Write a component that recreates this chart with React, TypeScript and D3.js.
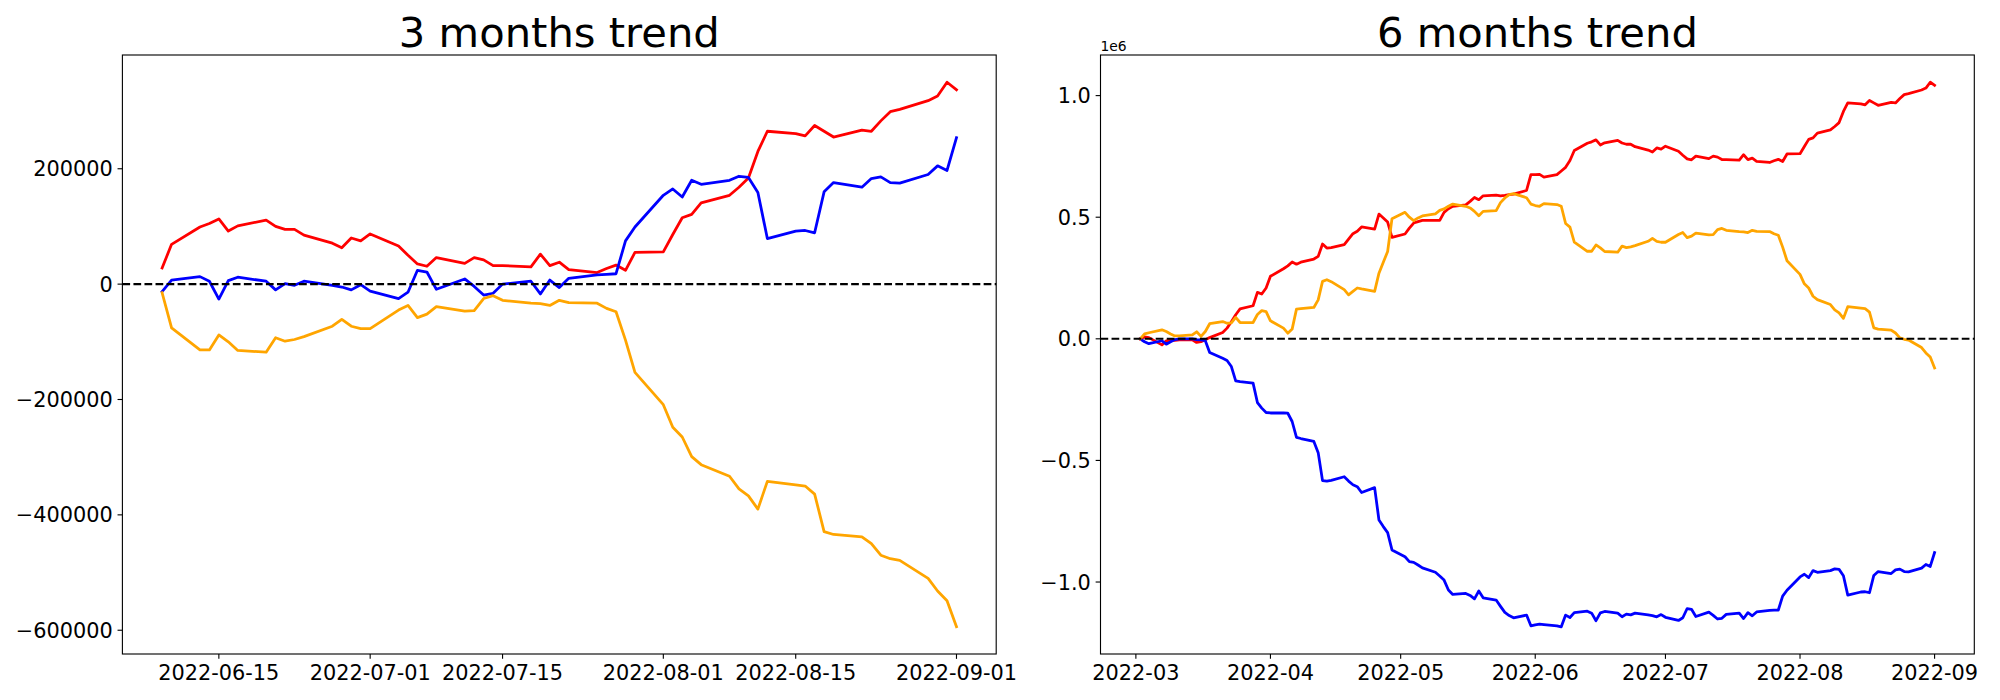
import { scaleLinear, scaleTime, line as d3_line, extent, min, max, timeParse, timeFormat } from "d3"

const parseDay = timeParse("%Y-%m-%d")
const PX = 100 / 72 // matplotlib points -> px (dpi 100)
const FONT = "DejaVu Sans"

// ---------- 3 months trend ----------
const threeDates = [
  "2022-06-09", "2022-06-10", "2022-06-13", "2022-06-14", "2022-06-15", "2022-06-16", "2022-06-17",
  "2022-06-20", "2022-06-21", "2022-06-22", "2022-06-23", "2022-06-24", "2022-06-27", "2022-06-28",
  "2022-06-29", "2022-06-30",
  "2022-07-01", "2022-07-04", "2022-07-05", "2022-07-06", "2022-07-07", "2022-07-08", "2022-07-11",
  "2022-07-12", "2022-07-13", "2022-07-14", "2022-07-15", "2022-07-18", "2022-07-19", "2022-07-20",
  "2022-07-21", "2022-07-22", "2022-07-25", "2022-07-26", "2022-07-27", "2022-07-28", "2022-07-29",
  "2022-08-01", "2022-08-02", "2022-08-03", "2022-08-04", "2022-08-05", "2022-08-08", "2022-08-09",
  "2022-08-10", "2022-08-11", "2022-08-12", "2022-08-15", "2022-08-16", "2022-08-17", "2022-08-18",
  "2022-08-19", "2022-08-22", "2022-08-23", "2022-08-24", "2022-08-25", "2022-08-26", "2022-08-29",
  "2022-08-30", "2022-08-31",
  "2022-09-01",
]
const threeRed = [
  28000, 69000, 99000, 105000, 113000, 92000, 101000, 111000, 100000, 95000, 95000, 85000, 71000, 63000, 80000, 75000,
  87000, 66000, 50000, 35000, 31000, 46000, 36000, 46000, 42000, 32000, 32000, 30000, 52000, 32000, 38000, 25000,
  20000, 27000, 33000, 24000, 55000,
  56000, 86000, 115000, 121000, 141000, 154000, 168000, 184000, 230000, 265000, 261000, 257000, 275000, 265000,
  255000, 267000, 265000, 283000, 299000, 303000, 318000, 326000, 350000,
  337000,
]
const threeBlue = [
  -13000, 7000, 13000, 5000, -26000, 6000, 12000, 5000, -10000, 1000, -2000, 5000, -2000, -5000, -10000, -1000,
  -12000, -25000, -14000, 24000, 21000, -9000, 9000, -4000, -19000, -16000, 0, 5000, -17000, 7000, -6000, 10000,
  16000, 17000, 18000, 75000, 99000,
  154000, 165000, 151000, 180000, 173000, 180000, 187000, 185000, 159000, 79000, 92000, 93000, 89000, 160000,
  176000, 168000, 183000, 186000, 176000, 175000, 190000, 205000, 197000,
  254000,
]
const threeOrange = [
  -15000, -76000, -114000, -114000, -88000, -100000, -115000, -118000, -93000, -99000, -96000, -91000, -73000,
  -61000, -73000, -77000,
  -77000, -45000, -37000, -58000, -52000, -39000, -47000, -46000, -25000, -20000, -28000, -33000, -34000, -37000,
  -28000, -32000, -33000, -42000, -48000, -97000, -153000,
  -209000, -248000, -265000, -299000, -313000, -333000, -355000, -367000, -390000, -342000, -348000, -350000,
  -364000, -429000, -434000, -438000, -450000, -470000, -476000, -479000, -510000, -532000, -549000,
  -594000,
]
const threeXTicks = ["2022-06-15", "2022-07-01", "2022-07-15", "2022-08-01", "2022-08-15", "2022-09-01"]
const threeYTicks = [-600000, -400000, -200000, 0, 200000]

// ---------- 6 months trend ----------
const sixDates = [
  "2022-03-02", "2022-03-03", "2022-03-04", "2022-03-07", "2022-03-08", "2022-03-09", "2022-03-10", "2022-03-11",
  "2022-03-14", "2022-03-15", "2022-03-16", "2022-03-17", "2022-03-18", "2022-03-21", "2022-03-22", "2022-03-23",
  "2022-03-24", "2022-03-25", "2022-03-28", "2022-03-29", "2022-03-30", "2022-03-31",
  "2022-04-01", "2022-04-04", "2022-04-05", "2022-04-06", "2022-04-07", "2022-04-08", "2022-04-11", "2022-04-12",
  "2022-04-13", "2022-04-14", "2022-04-15", "2022-04-18", "2022-04-19", "2022-04-20", "2022-04-21", "2022-04-22",
  "2022-04-25", "2022-04-26", "2022-04-27", "2022-04-28", "2022-04-29",
  "2022-05-02", "2022-05-03", "2022-05-04", "2022-05-05", "2022-05-06", "2022-05-09", "2022-05-10", "2022-05-11",
  "2022-05-12", "2022-05-13", "2022-05-16", "2022-05-17", "2022-05-18", "2022-05-19", "2022-05-20", "2022-05-23",
  "2022-05-24", "2022-05-25", "2022-05-26", "2022-05-27", "2022-05-30", "2022-05-31",
  "2022-06-01", "2022-06-02", "2022-06-03", "2022-06-06", "2022-06-07", "2022-06-08",
  ...threeDates,
]
const sixRed = [
  0, 8000, 5000, -25000, -8000, -5000, -6000, -4000, -4000, -15000, -12000, -4000, 5000, 26000, 44000, 70000,
  99000, 123000, 136000, 191000, 184000, 209000,
  257000, 288000, 300000, 316000, 307000, 315000, 328000, 339000, 390000, 373000, 375000, 387000, 410000, 432000,
  442000, 460000, 451000, 513000, 497000, 480000, 417000,
  431000, 455000, 476000, 482000, 487000, 487000, 487000, 520000, 535000, 545000, 551000, 565000, 581000, 572000,
  588000, 591000, 588000, 590000, 593000, 595000, 610000, 675000,
  675000, 676000, 665000, 675000, 690000, 705000,
  733000, 774000, 804000, 810000, 818000, 797000, 806000, 816000, 805000, 800000, 800000, 790000, 776000, 768000,
  785000, 780000,
  792000, 771000, 755000, 740000, 736000, 751000, 741000, 751000, 747000, 737000, 737000, 735000, 757000, 737000,
  743000, 730000, 725000, 732000, 738000, 729000, 760000,
  761000, 791000, 820000, 826000, 846000, 859000, 873000, 889000, 935000, 970000, 966000, 962000, 980000, 970000,
  960000, 972000, 970000, 988000, 1004000, 1008000, 1023000, 1031000, 1055000,
  1042000,
]
const sixBlue = [
  0, -12000, -20000, -8000, -22000, -12000, -3000, 0, 0, -3000, -4000, -8000, -56000, -80000, -89000, -114000,
  -173000, -176000, -182000, -262000, -285000, -303000,
  -305000, -305000, -306000, -340000, -405000, -410000, -422000, -468000, -583000, -585000, -582000, -567000,
  -585000, -600000, -608000, -632000, -612000, -745000, -772000, -797000, -868000,
  -896000, -916000, -919000, -930000, -942000, -960000, -975000, -992000, -1033000, -1051000, -1047000, -1055000,
  -1069000, -1037000, -1065000, -1074000, -1100000, -1125000, -1138000, -1147000, -1136000, -1180000,
  -1176000, -1173000, -1175000, -1180000, -1184000, -1136000,
  -1146000, -1126000, -1120000, -1128000, -1159000, -1127000, -1121000, -1128000, -1143000, -1132000, -1135000,
  -1128000, -1135000, -1138000, -1143000, -1134000,
  -1145000, -1158000, -1147000, -1109000, -1112000, -1142000, -1124000, -1137000, -1152000, -1149000, -1133000,
  -1128000, -1150000, -1126000, -1139000, -1123000, -1117000, -1116000, -1115000, -1058000, -1034000,
  -979000, -968000, -982000, -953000, -960000, -953000, -946000, -948000, -974000, -1054000, -1041000, -1040000,
  -1044000, -973000, -957000, -965000, -950000, -947000, -957000, -958000, -943000, -928000, -936000,
  -879000,
]
const sixOrange = [
  0, 20000, 25000, 37000, 30000, 20000, 12000, 12000, 16000, 29000, 10000, 30000, 62000, 71000, 64000, 66000,
  88000, 67000, 67000, 100000, 116000, 112000,
  74000, 44000, 23000, 40000, 122000, 124000, 129000, 160000, 236000, 243000, 235000, 202000, 181000, 195000,
  209000, 205000, 195000, 270000, 315000, 359000, 494000,
  520000, 500000, 486000, 497000, 505000, 514000, 528000, 534000, 545000, 554000, 545000, 538000, 524000, 506000,
  524000, 527000, 560000, 579000, 593000, 597000, 580000, 554000,
  548000, 545000, 556000, 552000, 545000, 474000,
  459000, 398000, 360000, 360000, 386000, 374000, 359000, 356000, 381000, 375000, 378000, 383000, 401000, 413000,
  401000, 397000,
  397000, 429000, 437000, 416000, 422000, 435000, 427000, 428000, 449000, 454000, 446000, 441000, 440000, 437000,
  446000, 442000, 441000, 432000, 426000, 377000, 321000,
  265000, 226000, 209000, 175000, 161000, 141000, 119000, 107000, 84000, 132000, 126000, 124000, 110000, 45000,
  40000, 36000, 24000, 4000, -2000, -5000, -36000, -58000, -75000,
  -120000,
]
const sixXTicks = ["2022-03-01", "2022-04-01", "2022-05-01", "2022-06-01", "2022-07-01", "2022-08-01", "2022-09-01"]
const sixYTicks = [-1000000, -500000, 0, 500000, 1000000]

const minus = (s: string) => s.replace("-", "\u2212")

type Series = { color: string; values: number[] }

interface PanelProps {
  title: string
  dates: string[]
  series: Series[]
  xTicks: string[]
  xFormat: string
  yTicks: number[]
  yLabel: (v: number) => string
  offsetText?: string
  left: number
  width: number
}

function TrendPanel({ title, dates, series, xTicks, xFormat, yTicks, yLabel, offsetText, left, width }: PanelProps) {
  const top = 55
  const bottom = 654
  const days = dates.map((d) => parseDay(d) as Date)
  const [d0, d1] = extent(days) as [Date, Date]
  const dPad = (+d1 - +d0) * 0.05
  const x = scaleTime()
    .domain([new Date(+d0 - dPad), new Date(+d1 + dPad)])
    .range([left, left + width])

  const all = series.flatMap((s) => s.values)
  const lo = min(all) ?? 0
  const hi = max(all) ?? 0
  const vPad = (hi - lo) * 0.05
  const y = scaleLinear().domain([lo - vPad, hi + vPad]).range([bottom, top])

  const line = d3_line<number>()
    .x((_, i) => x(days[i]))
    .y((v) => y(v))

  const fmt = timeFormat(xFormat)
  const tickLen = 3.5 * PX
  const pad = 3.5 * PX
  const tickFont = 15 * PX

  return (
    <g fontFamily={FONT}>
      {/* title */}
      <text x={left + width / 2} y={top - 6 * PX} textAnchor="middle" fontSize={30 * PX}>
        {title}
      </text>
      {offsetText && (
        <text x={left} y={51} fontSize={10 * PX}>
          {offsetText}
        </text>
      )}

      {/* lines */}
      {series.map((s, i) => (
        <path
          key={i}
          d={line(s.values) ?? ""}
          fill="none"
          stroke={s.color}
          strokeWidth={2 * PX}
          strokeLinejoin="round"
          strokeLinecap="square"
        />
      ))}

      {/* zero line */}
      <line
        x1={left}
        x2={left + width}
        y1={y(0)}
        y2={y(0)}
        stroke="black"
        strokeWidth={1.5 * PX}
        strokeDasharray={`${3.7 * 1.5 * PX},${1.6 * 1.5 * PX}`}
      />

      {/* frame */}
      <rect x={left} y={top} width={width} height={bottom - top} fill="none" stroke="black" strokeWidth={0.8 * PX} />

      {/* x axis */}
      {xTicks.map((t) => {
        const d = parseDay(t) as Date
        const tx = x(d)
        return (
          <g key={t}>
            <line x1={tx} x2={tx} y1={bottom} y2={bottom + tickLen} stroke="black" strokeWidth={0.8 * PX} />
            <text x={tx} y={bottom + tickLen + pad + 0.76 * tickFont} textAnchor="middle" fontSize={tickFont}>
              {fmt(d)}
            </text>
          </g>
        )
      })}

      {/* y axis */}
      {yTicks.map((v) => {
        const ty = y(v)
        return (
          <g key={v}>
            <line x1={left - tickLen} x2={left} y1={ty} y2={ty} stroke="black" strokeWidth={0.8 * PX} />
            <text x={left - tickLen - pad} y={ty + 0.365 * tickFont} textAnchor="end" fontSize={tickFont}>
              {yLabel(v)}
            </text>
          </g>
        )
      })}
    </g>
  )
}

export default function App() {
  return (
    <svg
      width={2000}
      height={700}
      viewBox="0 0 2000 700"
      style={{ position: "absolute", left: 0, top: 0, background: "white" }}
    >
      <rect width={2000} height={700} fill="white" />
      <TrendPanel
        title="3 months trend"
        dates={threeDates}
        series={[
          { color: "red", values: threeRed },
          { color: "blue", values: threeBlue },
          { color: "orange", values: threeOrange },
        ]}
        xTicks={threeXTicks}
        xFormat="%Y-%m-%d"
        yTicks={threeYTicks}
        yLabel={(v) => minus(String(v))}
        left={122.4}
        width={873.8}
      />
      <TrendPanel
        title="6 months trend"
        dates={sixDates}
        series={[
          { color: "red", values: sixRed },
          { color: "blue", values: sixBlue },
          { color: "orange", values: sixOrange },
        ]}
        xTicks={sixXTicks}
        xFormat="%Y-%m"
        yTicks={sixYTicks}
        yLabel={(v) => minus((v / 1e6).toFixed(1))}
        offsetText="1e6"
        left={1100.5}
        width={873.8}
      />
    </svg>
  )
}
